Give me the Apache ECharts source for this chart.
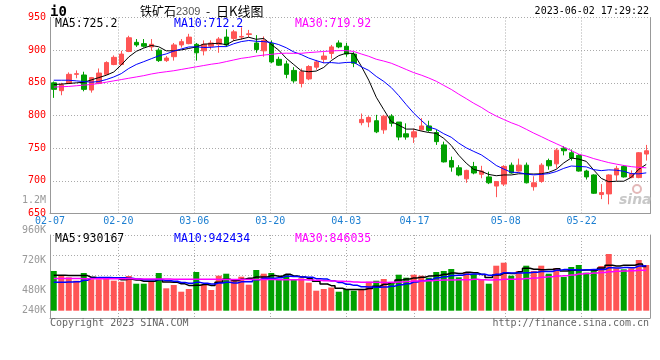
<!DOCTYPE html>
<html><head><meta charset="utf-8">
<script src="https://cdn.jsdelivr.net/npm/echarts@6/dist/echarts.min.js"></script>
<style>html,body{margin:0;padding:0;background:#fff}#c{width:660px;height:360px}</style>
</head><body><div id="c"></div>
<script>
const dates = ['02-07','02-08','02-09','02-10','02-13','02-14','02-15','02-16','02-17','02-20','02-21','02-22','02-23','02-24','02-27','02-28',
'03-01','03-02','03-03','03-06','03-07','03-08','03-09','03-10','03-13','03-14','03-15','03-16','03-17','03-20','03-21','03-22','03-23','03-24','03-27','03-28','03-29','03-30','03-31',
'04-03','04-04','04-06','04-07','04-10','04-11','04-12','04-13','04-14','04-17','04-18','04-19','04-20','04-21','04-24','04-25','04-26','04-27','04-28',
'05-04','05-05','05-08','05-09','05-10','05-11','05-12','05-15','05-16','05-17','05-18','05-19','05-22','05-23','05-24','05-25','05-26','05-29','05-30','05-31',
'06-01','06-02'];
const labelDates = ['02-07','02-20','03-06','03-20','04-03','04-17','05-08','05-22'];

const openP = [850,838,849,863,862,839,849,863,878,878, 898,912,910,905,900,884,890,908,910,909, 899,906,909,920,918,920,924,911,899,910, 886,879,869,849,856,874,886,895,911,906, 894,789,790,792,778,799,790,772,767,778, 784,774,755,731,720,703,722,710,706,692, 695,724,715,724,691,699,731,726,750,743, 739,715,709,679,680,709,722,705,705,741];
const closeP = [840,847,863,864,840,858,865,881,889,894, 919,908,906,909,884,888,908,913,920,896, 909,911,917,908,928,921,925,901,915,882, 877,863,853,867,875,882,891,905,905,894, 880,794,797,775,799,788,767,767,775,784, 777,760,729,721,709,716,712,715,697,699, 722,712,724,697,697,724,723,747,746,735, 715,706,681,682,709,719,706,711,743,746];
const lowP = [827,831,848,857,837,835,848,862,877,877, 897,905,904,899,882,882,884,904,909,884, 892,901,896,905,914,916,920,896,890,880, 876,857,850,843,854,870,880,887,903,890, 874,785,782,773,772,783,762,763,758,777, 775,755,728,714,707,697,710,704,695,675, 692,711,714,696,685,697,717,719,739,731, 714,702,680,672,664,700,705,704,704,731];
const highP = [852,850,866,869,867,859,872,883,892,899, 922,917,917,917,903,891,911,917,925,911, 915,915,920,932,931,935,931,923,921,915, 890,884,874,872,877,885,897,908,915,911, 897,803,799,801,801,802,790,788,780,796, 792,778,760,737,724,717,729,723,714,699, 724,728,734,728,707,727,734,750,753,748, 741,717,710,695,710,723,724,716,744,755];

const ma5 = [847.5,848,849,850,850.8,854.4,858,861.6,866.6,877.4, 889.6,898.2,903.2,907.2,905.2,899,899,900.4,902.6,905, 909.2,909.8,910.6,908.2,914.6,917,919.8,916.6,918,908.8, 900,887.6,878,868.4,867,868,873.6,884,891.6,895.4, 895,875.6,854,828,809,790.6,785.2,779.2,779.2,776.2, 774,772.6,765,754.2,739.2,727,717.4,714.6,709.8,707.8, 709,709,710.8,710.8,710.4,710.8,713,717.6,727.4,735, 733.2,729.8,716.6,703.8,698.6,699.4,699.4,705.4,717.6,725.2];
const ma10 = [854,854,854,853,852,851,852,855,859,864.1, 872,878.1,882.4,886.9,891.3,894.3,898.6,901.8,904.9,905.1, 904.1,904.4,905.5,905.4,909.8,913.1,914.8,913.6,913.1,911.7, 908.5,903.7,897.3,893.2,887.9,884,880.6,881,880,881.2, 881.5,874.6,869,859.8,852.2,842.8,830.4,816.6,803.6,792.6, 782.3,778.9,772.1,766.7,757.7,750.5,745,739.8,732,723.5, 718,713.2,712.7,710.3,709.1,709.9,711,714.2,719.1,722.7, 722,721.4,717.1,715.6,716.8,716.3,714.6,711,710.7,712.2];
const ma30 = [843.5,844,844.5,845.5,846.5,847.5,849,851,853,855, 857,859,861,863.5,865.5,867,868.5,870.5,872.5,874.5, 876.5,878.5,880,882.5,885,887.5,889,891,892.5,893.6, 894.9,895.4,895.1,895.2,896.3,897.1,898,898.8,899.3,899.3, 898,894.2,890.6,886.1,883.3,880,875.3,870.4,865.6,861.8, 857.4,852.4,846.1,839.9,832.6,825.8,818.7,812.5,805.2,799.1, 793.9,788.9,784.6,778.9,773,767.7,762.1,756.9,751.6,746.3, 740.8,737.8,734,730.9,727.9,725.6,723.5,721.7,720.6,719.92];

// volume, thousand lots
const volume = [834,729,701,630,792,659,659,680,630,609, 729,567,567,617,792,470,540,399,456,813, 540,435,735,777,645,714,546,855,777,792, 659,756,659,680,588,420,456,487,399,456, 420,456,609,630,666,575,756,693,756,735, 693,813,834,876,701,813,771,645,567,945, 1008,735,834,945,834,945,777,897,708,918, 960,798,876,939,1191,890,869,890,1065,960];
const volMa5 = [745,745,740,738,737.2,702.2,688.2,684,684,647.4, 661.4,643,620.4,617.8,654.4,602.6,597.2,563.6,531.4,535.6, 549.6,528.6,595.8,660,626.4,661.2,683.4,707.4,707.4,736.8, 725.8,767.8,728.6,709.2,668.4,620.6,560.6,526.2,470,443.6, 443.6,443.6,468,514.2,556.2,587.2,647.2,664,689.2,703, 726.6,738,766.2,790.2,783.4,807.4,799,761.2,699.4,748.2, 787.2,780,817.8,893.4,871.2,858.6,867,879.6,832.2,849, 852,856.2,852,898.2,952.8,938.8,953,955.8,981,930.2];
const volMa10 = [600,600,605,610,640,680,695,695,692,692.3, 681.8,665.6,652.2,650.9,650.9,632,620.1,592,574.6,595, 576.1,562.9,579.7,595.7,581,605.4,606,651.6,683.7,681.6, 693.5,725.6,718,708.3,702.6,673.2,664.2,627.4,589.6,556, 532.1,502.1,497.1,492.1,499.9,515.4,545.4,566,601.7,629.6, 656.9,692.6,715.1,739.7,743.2,767,768.5,763.7,744.8,765.8, 797.3,789.5,789.5,796.4,809.7,822.9,823.5,848.7,862.8,860.1, 855.3,861.6,865.8,865.2,900.9,895.4,904.6,903.9,939.6,942.4];
const volMa30 = [675,675,674,674,673,673,672,672,671,670, 669,668,667,666,665,664,663,662,661,660, 659,658,657,656,656,655,655,655,656,656.3, 650.5,651.4,650,651.6,644.8,636.9,630.1,623.7,616,610.9, 600.6,596.9,598.3,598.7,594.5,598,605.2,615,625,622.4, 627.5,640.1,643.4,646.7,648.6,651.9,659.4,652.4,645.4,650.5, 662.1,661.4,667.2,676.1,684.3,701.8,712.5,726.1,736.4,751.8, 769.8,781.2,790.1,800.4,817.9,828.4,832.2,838.8,849.1,846];

const priceLegend = ['MA5:725.2', 'MA10:712.2', 'MA30:719.92'];
const volLegend = ['MA5:930167', 'MA10:942434', 'MA30:846035'];
const volTickLabels = ['1.2M','960K','720K','480K','240K'];

const mono = '"DejaVu Sans Mono", monospace';
const cjk = '"Noto Sans CJK SC", sans-serif';
const RED = '#ff5555', GREEN = '#00a000';
const gridGray = '#aaaaaa', axisGray = '#999999';
const maColors = ['#000000', '#0000ff', '#ff00ff'];
const labelIdx = labelDates.map(d => dates.indexOf(d));
const showLabel = (i) => labelIdx.indexOf(i) >= 0;
const dotted = {color: gridGray, type: [1, 2], width: 1};

function txt(x, y, text, font, fill, align) {
  return {type: 'text', x: x, y: y, z: 100, silent: true,
    style: {text: text, font: font, fill: fill, align: align || 'left', textAlign: align || 'left',
            verticalAlign: 'middle', textVerticalAlign: 'middle'}};
}
const legendX = [55, 174, 295];
const volLabelY = [200.7, 230.5, 260.7, 290.7, 310.7];
const graphics = [
  txt(50, 12, 'i0', 'bold 14px ' + mono, '#000'),
  txt(140, 11, '铁矿石', '12px ' + cjk, '#000'),
  txt(176, 11.5, '2309', '11px "Liberation Sans", sans-serif', '#555'),
  txt(206, 11, '-', '12px ' + cjk, '#000'),
  txt(216, 11, '日K线图', '13px ' + cjk, '#000'),
  txt(649, 11.5, '2023-06-02 17:29:22', '10px ' + mono, '#000', 'right'),
  txt(50, 323.5, 'Copyright 2023 SINA.COM', '10px ' + mono, '#666'),
  txt(649, 323.5, 'http://finance.sina.com.cn', '10px ' + mono, '#666', 'right'),
  txt(619, 200, 'sina', 'italic bold 14px "DejaVu Sans", sans-serif', '#c8c8c8'),
  {type: 'circle', z: 100, silent: true, shape: {cx: 637, cy: 189, r: 4}, style: {fill: 'none', stroke: '#e3b8b8', lineWidth: 2}}
];
priceLegend.forEach((t, k) => graphics.push(txt(legendX[k], 24, t, '11.5px ' + mono, maColors[k])));
volLegend.forEach((t, k) => graphics.push(txt(legendX[k], 239, t, '11.5px ' + mono, maColors[k])));
volTickLabels.forEach((t, k) => graphics.push(txt(46, volLabelY[k], t, '10px ' + mono, '#999', 'right')));

const chart = echarts.init(document.getElementById('c'), null, {renderer: 'canvas', width: 660, height: 360});
chart.setOption({
  animation: false,
  backgroundColor: '#fff',
  grid: [
    {left: 50, width: 600, top: 17.5, height: 196, outerBoundsMode: 'none'},
    {left: 50, width: 600, top: 235, height: 83, outerBoundsMode: 'none'}
  ],
  xAxis: [
    {gridIndex: 0, type: 'category', data: dates, boundaryGap: true, show: false},
    {gridIndex: 0, type: 'category', data: dates, boundaryGap: false, position: 'bottom',
      axisLine: {onZero: false, lineStyle: {color: axisGray}}, axisTick: {show: false},
      axisLabel: {interval: (i) => showLabel(i), color: '#1d7fd1', fontFamily: mono, fontSize: 10, margin: 3},
      splitLine: {show: true, interval: (i) => showLabel(i), lineStyle: dotted}},
    {gridIndex: 1, type: 'category', data: dates, boundaryGap: true, show: false},
    {gridIndex: 1, type: 'category', data: dates, boundaryGap: false, position: 'bottom',
      axisLine: {onZero: false, lineStyle: {color: axisGray}}, axisTick: {show: false}, axisLabel: {show: false},
      splitLine: {show: true, interval: (i) => showLabel(i), lineStyle: dotted}}
  ],
  yAxis: [
    {gridIndex: 0, type: 'value', min: 650, max: 950, interval: 50, position: 'left',
      axisLine: {show: true, onZero: false, lineStyle: {color: axisGray}}, axisTick: {show: false},
      axisLabel: {color: '#ff0000', fontFamily: mono, fontSize: 10, margin: 4},
      splitLine: {show: true, lineStyle: dotted}},
    {gridIndex: 0, type: 'value', min: 0, max: 1, position: 'right',
      axisLine: {show: true, onZero: false, lineStyle: {color: axisGray}}, axisTick: {show: false},
      axisLabel: {show: false}, splitLine: {show: false}},
    {gridIndex: 1, type: 'value', min: -153.3, max: 1589.7, position: 'left',
      axisLine: {show: true, onZero: false, lineStyle: {color: axisGray}}, axisTick: {show: false},
      axisLabel: {show: false}, splitLine: {show: false}},
    {gridIndex: 1, type: 'value', inverse: true, min: 0, max: 83, interval: 20, position: 'right',
      axisLine: {show: true, onZero: false, lineStyle: {color: axisGray}}, axisTick: {show: false},
      axisLabel: {show: false},
      splitLine: {show: true, lineStyle: {color: [gridGray, gridGray, gridGray, gridGray, 'rgba(0,0,0,0)', gridGray], type: [1, 2], width: 1}}}
  ],
  series: [
    {type: 'candlestick', xAxisIndex: 0, yAxisIndex: 0, barWidth: 5,
      data: dates.map((d, i) => [openP[i], closeP[i], lowP[i], highP[i]]),
      itemStyle: {color: RED, color0: GREEN, borderColor: RED, borderColor0: GREEN, borderWidth: 1}},
    {type: 'line', xAxisIndex: 0, yAxisIndex: 0, data: ma5, symbol: 'none', lineStyle: {color: maColors[0], width: 1}, z: 3},
    {type: 'line', xAxisIndex: 0, yAxisIndex: 0, data: ma10, symbol: 'none', lineStyle: {color: maColors[1], width: 1}, z: 3},
    {type: 'line', xAxisIndex: 0, yAxisIndex: 0, data: ma30, symbol: 'none', lineStyle: {color: maColors[2], width: 1}, z: 3},
    {type: 'bar', xAxisIndex: 2, yAxisIndex: 2, barWidth: 6,
      data: volume.map((v, i) => ({value: v, itemStyle: {color: closeP[i] >= openP[i] ? RED : GREEN}}))},
    {type: 'line', xAxisIndex: 2, yAxisIndex: 2, data: volMa5, step: 'middle', symbol: 'none', lineStyle: {color: maColors[0], width: 1.5}, z: 3},
    {type: 'line', xAxisIndex: 2, yAxisIndex: 2, data: volMa10, step: 'middle', symbol: 'none', lineStyle: {color: maColors[1], width: 1.5}, z: 3},
    {type: 'line', xAxisIndex: 2, yAxisIndex: 2, data: volMa30, step: 'middle', symbol: 'none', lineStyle: {color: maColors[2], width: 1.5}, z: 3}
  ],
  graphic: graphics
});
</script>
</body></html>
